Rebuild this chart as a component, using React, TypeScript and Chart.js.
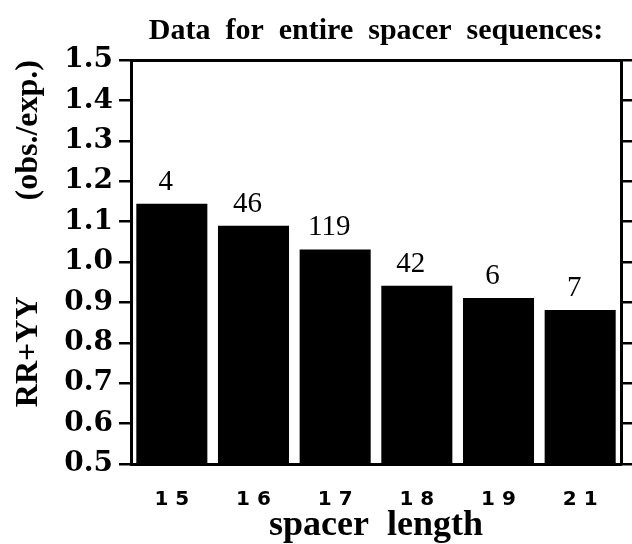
import React, { useEffect, useRef } from "react";
import { Chart, registerables } from "chart.js";

Chart.register(...registerables);

const spacerLengths = [15, 16, 17, 18, 19, 21];
const ratioValues = [1.144, 1.09, 1.031, 0.941, 0.911, 0.881];
const sequenceCounts = [4, 46, 119, 42, 6, 7];
const titleText = "Data  for  entire  spacer  sequences:";
const yTitleText = "RR+YY            (obs./exp.)";
const xTitleText = "spacer  length";

const countLabels = {
  id: "countLabels",
  afterDatasetsDraw(chart: any) {
    const ctx = chart.ctx;
    const meta = chart.getDatasetMeta(0);
    ctx.save();
    ctx.fillStyle = "#000";
    ctx.font = "29px 'Liberation Serif'";
    ctx.textAlign = "center";
    ctx.textBaseline = "alphabetic";
    meta.data.forEach((bar: any, i: number) => {
      ctx.fillText(String(sequenceCounts[i]), bar.x - 6, bar.y - 14);
    });
    ctx.restore();
  },
};

export default function App() {
  const ref = useRef<HTMLCanvasElement>(null);
  useEffect(() => {
    if (!ref.current) return;
    const chart = new Chart(ref.current, {
      type: "bar",
      data: {
        labels: spacerLengths.map(String),
        datasets: [
          {
            data: ratioValues,
            backgroundColor: "#000",
            borderWidth: 0,
            barPercentage: 0.87,
            categoryPercentage: 1,
          },
        ],
      },
      plugins: [countLabels],
      options: {
        animation: false,
        responsive: true,
        maintainAspectRatio: false,
        layout: { padding: 0 },
        plugins: {
          legend: { display: false },
          tooltip: { enabled: false },
          title: {
            display: true,
            text: titleText,
            fullSize: false,
            color: "#000",
            font: { family: "'Liberation Serif'", size: 30, weight: "bold", lineHeight: 1.2 },
            padding: { top: 13, bottom: 11 },
          },
        },
        scales: {
          x: {
            position: "bottom",
            offset: true,
            grid: { display: false, drawTicks: false },
            border: { display: true, color: "#000", width: 3 },
            ticks: {
              color: "#000",
              padding: 24,
              font: { family: "'DejaVu Sans'", size: 20, weight: "bold" },
              callback: (_v: any, i: number) => String(spacerLengths[i]).split("").join(" "),
            },
            title: {
              display: true,
              text: xTitleText,
              color: "#000",
              font: { family: "'Liberation Serif'", size: 36, weight: "bold", lineHeight: 1.0 },
              padding: 0,
            },
            afterFit: (s: any) => {
              s.height = 80;
            },
          },
          xTop: {
            type: "category",
            position: "top",
            labels: spacerLengths.map(String),
            offset: true,
            grid: { display: false, drawTicks: false },
            border: { display: true, color: "#000", width: 3 },
            ticks: { display: false },
            afterFit: (s: any) => {
              s.height = 0;
            },
          },
          y: {
            position: "left",
            min: 0.5,
            max: 1.5,
            grid: {
              drawOnChartArea: false,
              drawTicks: true,
              tickLength: 12,
              color: "#000",
              lineWidth: 2.5,
            },
            border: { display: true, color: "#000", width: 3 },
            ticks: {
              stepSize: 0.1,
              autoSkip: false,
              color: "#000",
              padding: 6,
              font: { family: "'DejaVu Serif'", size: 28, weight: "bold" },
              callback: (v: any) => Number(v).toFixed(1),
            },
            title: {
              display: true,
              text: yTitleText,
              align: "end",
              color: "#000",
              font: { family: "'Liberation Serif'", size: 32, weight: "bold", lineHeight: 1.2 },
              padding: { top: 10, bottom: 0 },
            },
            afterFit: (s: any) => {
              s.width = 131;
            },
          },
          yRight: {
            position: "right",
            min: 0.5,
            max: 1.5,
            grid: {
              drawOnChartArea: false,
              drawTicks: true,
              tickLength: 12,
              color: "#000",
              lineWidth: 2.5,
            },
            border: { display: true, color: "#000", width: 3 },
            ticks: { display: false, stepSize: 0.1, autoSkip: false },
            afterFit: (s: any) => {
              s.width = 11;
            },
          },
        },
      },
    });
    return () => chart.destroy();
  }, []);
  return (
    <div style={{ position: "fixed", left: 0, top: 0, width: 632, height: 544, background: "#fff" }}>
      <canvas ref={ref} />
    </div>
  );
}
